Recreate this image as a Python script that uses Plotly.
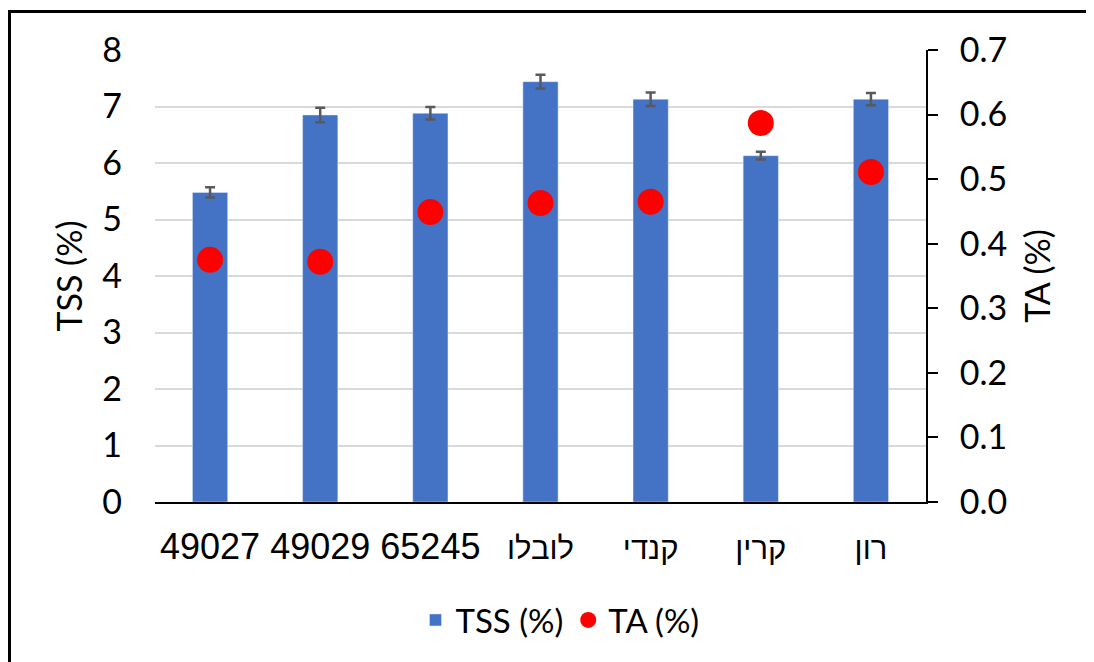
import plotly.graph_objects as go

categories = ["49027", "49029", "65245", "לובלו", "קנדי", "קרין", "רון"]
tss = [5.48, 6.85, 6.88, 7.44, 7.13, 6.13, 7.13]
tss_err = [0.09, 0.13, 0.11, 0.12, 0.12, 0.07, 0.11]
ta = [0.375, 0.372, 0.449, 0.463, 0.465, 0.587, 0.511]
left_ticks = [0, 1, 2, 3, 4, 5, 6, 7, 8]
right_ticks = [0.0, 0.1, 0.2, 0.3, 0.4, 0.5, 0.6, 0.7]

W, H = 1094, 662
OFF = 8  # page body offset
L, R, T, B = 155 - OFF, 926 - OFF, 50 - OFF, 502 - OFF

def cat_label(c):
    if c.isdigit():
        return c
    return f'<span style="font-size:31px">{c}</span>'

fig = go.Figure()
fig.add_trace(go.Bar(
    x=categories, y=tss, name="TSS (%)",
    marker=dict(color="#4472C4"),
    width=0.32,
    error_y=dict(type="data", array=tss_err, color="#595959", thickness=2.5, width=5),
))
fig.add_trace(go.Scatter(
    x=categories, y=ta, name="TA (%)", yaxis="y2", mode="markers",
    marker=dict(color="#FF0000", size=26, symbol="circle"),
))

def px_x(x):
    return (x - OFF - L) / (R - L)

def px_y(y):
    return (B - (y - OFF)) / (B - T)

shapes = [
    dict(type="line", xref="paper", yref="paper", x0=px_x(9.5), x1=px_x(9.5), y0=px_y(10), y1=px_y(700),
         line=dict(color="black", width=3)),
    dict(type="line", xref="paper", yref="paper", x0=px_x(8), x1=px_x(1110), y0=px_y(11.5), y1=px_y(11.5),
         line=dict(color="black", width=3)),
]

fig.update_layout(
    width=W, height=H,
    margin=dict(l=L, r=W - R, t=T, b=H - B),
    paper_bgcolor="white", plot_bgcolor="white",
    font=dict(family="Lato", color="black"),
    showlegend=True,
    legend=dict(orientation="h", x=px_x(560), xanchor="center", y=px_y(620), yanchor="middle",
                font=dict(size=33, family="Lato"), itemwidth=30, traceorder="normal"),
    shapes=shapes,
    xaxis=dict(
        type="category", showline=True, linecolor="black", linewidth=2,
        tickmode="array", tickvals=categories, ticktext=[cat_label(c) for c in categories],
        tickfont=dict(size=36, family="Liberation Sans, Arial"), ticks="", ticklabelstandoff=12,
        showgrid=False,
    ),
    yaxis=dict(
        range=[0, 8], tickvals=left_ticks, ticktext=[str(v) for v in left_ticks],
        showgrid=True, gridcolor="#D9D9D9", gridwidth=1.5, zeroline=False, showline=False,
        tickfont=dict(size=34, family="Lato"), ticks="", ticklabelstandoff=32,
        title=dict(text="TSS (%)", font=dict(size=34, family="Lato"), standoff=9),
    ),
    yaxis2=dict(
        overlaying="y", side="right", range=[0, 0.7], tickvals=right_ticks,
        ticktext=[f"{v:.1f}" for v in right_ticks],
        showgrid=False, zeroline=False, showline=True, linecolor="black", linewidth=2,
        ticks="outside", ticklen=10, tickwidth=2, tickcolor="black",
        tickfont=dict(size=34, family="Lato"), ticklabelstandoff=15,
        title=dict(text="TA (%)", font=dict(size=34, family="Lato"), standoff=20),
    ),
)

fig.write_html("out.html")
